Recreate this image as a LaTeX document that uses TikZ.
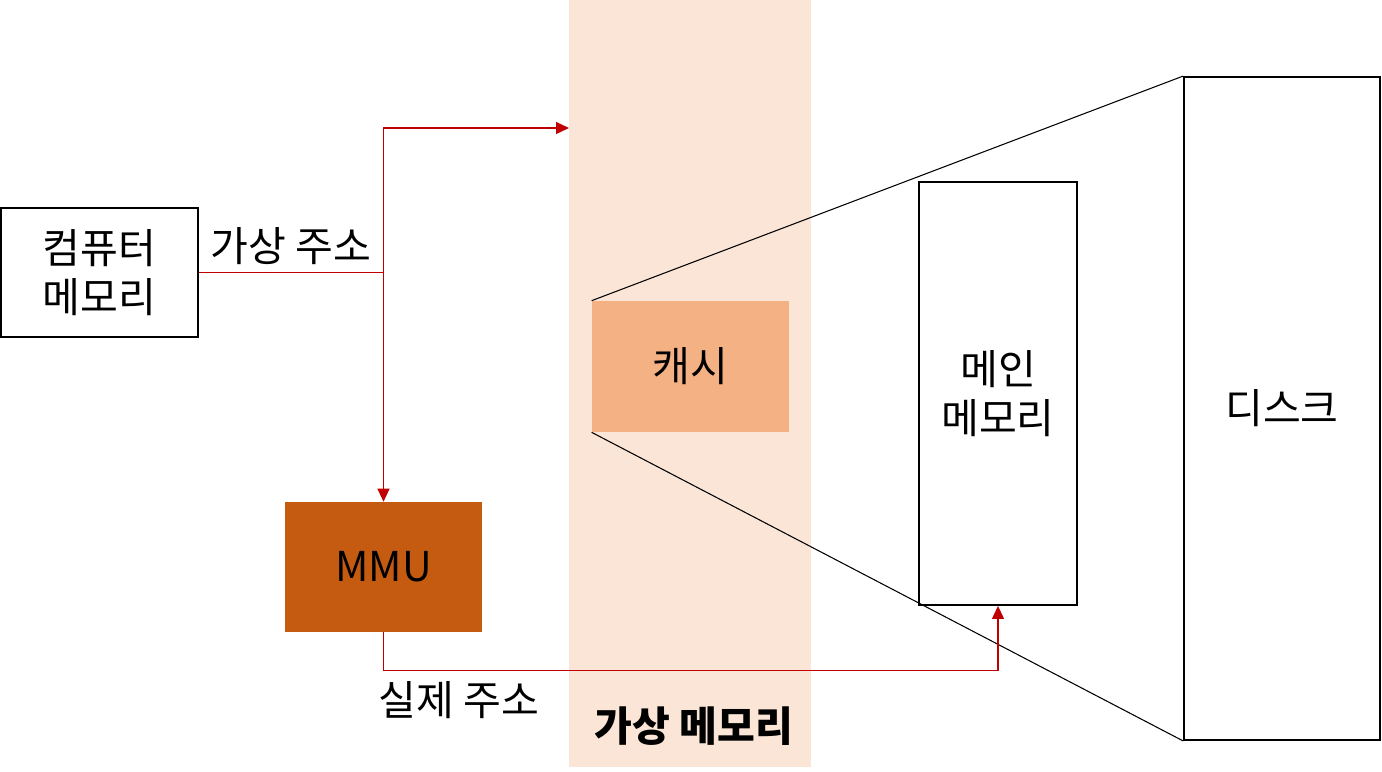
\documentclass[tikz,border=0pt]{standalone}
\usepackage{fontspec}
\setmainfont{Noto Sans CJK KR}
\usetikzlibrary{arrows.meta}
\definecolor{vmband}{HTML}{FBE5D6}
\definecolor{cachefill}{HTML}{F4B183}
\definecolor{mmufill}{HTML}{C55A11}
\definecolor{addrred}{HTML}{C00000}

\begin{document}
\begin{tikzpicture}[x=0.02cm, y=-0.02cm,
        every node/.style={font=\fontsize{23.4}{27.5}\selectfont, align=center},
        box/.style={draw=black, line width=1.1pt, inner sep=0pt},
        addr/.style={draw=addrred, line width=0.8pt},
        tip/.style={-{Triangle[length=7.4pt, width=6.8pt]}}]
        \useasboundingbox (0,0) rectangle (1382,771);
        \fill[vmband] (569,0) rectangle (811,767);
        \coordinate (vmtop) at (569,128);
        \node[box, minimum width=3.94cm, minimum height=2.58cm] (cm) at (99.5,272.5) {컴퓨터\\메모리};
        \node[fill=mmufill, inner sep=0pt, minimum width=3.94cm, minimum height=2.6cm] (mmu) at (383.5,567) {MMU};
        \node[fill=cachefill, inner sep=0pt, minimum width=3.94cm, minimum height=2.62cm] (cache) at (690.5,366.5) {캐시};
        \node[box, minimum width=3.16cm, minimum height=8.46cm] (mainmem) at (998,393.5) {메인\\메모리};
        \node[box, minimum width=3.92cm, minimum height=13.26cm] (disk) at (1282,408.5) {디스크};
        \draw[line width=0.6pt] (cache.north west) -- (disk.north west);
        \draw[line width=0.6pt] (cache.south west) -- (disk.south west);
        \draw[addr] (cm.east) -- (cm.east -| mmu.north) coordinate (split);
        \draw[addr, tip] (split) -- (mmu.north);
        \draw[addr, tip] (split) |- (vmtop);
        \draw[addr, tip] (mmu.south) -- ++(0,38) -| (mainmem.south);
        \node (vaddr) at (291,246) {가상 주소};
        \node (paddr) at (459,700) {실제 주소};
        \node[font=\fontsize{23.4}{27.5}\selectfont\bfseries] (vmlabel) at (694,726) {가상 메모리};
    \end{tikzpicture}
\end{document}
